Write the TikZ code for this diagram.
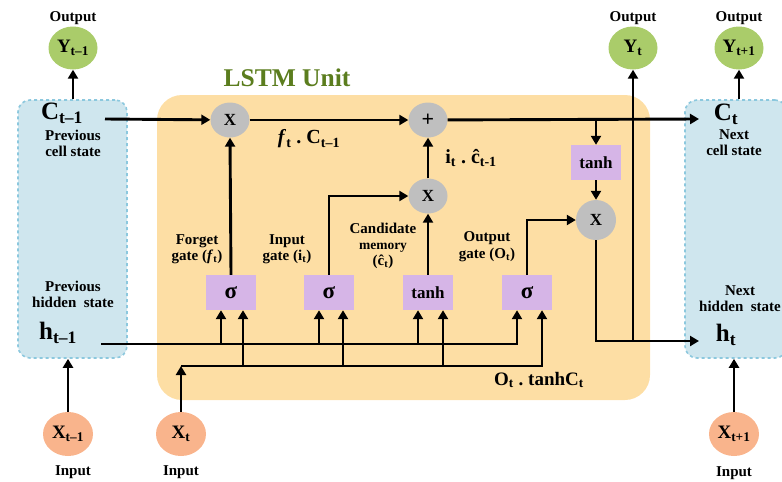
\documentclass[tikz,border=0pt]{standalone}
\usepackage{fontspec}
\setmainfont{Liberation Serif}
\usetikzlibrary{arrows.meta,shapes.geometric,calc}
\definecolor{cellblue}{RGB}{207,230,238}
\definecolor{cellborder}{RGB}{140,200,222}
\definecolor{unitorange}{RGB}{253,222,164}
\definecolor{outgreen}{RGB}{170,204,106}
\definecolor{inorange}{RGB}{249,180,140}
\definecolor{opgray}{RGB}{191,191,191}
\definecolor{gatepurple}{RGB}{214,181,231}
\definecolor{titlegreen}{RGB}{91,125,30}
\newcommand{\fs}[1]{\fontsize{#1}{#1}\selectfont}
\begin{document}
\begin{tikzpicture}[x=1pt,y=-1pt,
  arr/.style={line width=2.9pt,-{Triangle[length=9pt,width=10pt]}},
  statebox/.style={draw=cellborder,dashed,line width=1.6pt,fill=cellblue,rounded corners=12pt,minimum width=109pt,minimum height=258pt,inner sep=0pt},
  outcirc/.style={ellipse,fill=outgreen,minimum width=49pt,minimum height=43pt,inner sep=0pt,font=\bfseries\fs{19}},
  incirc/.style={ellipse,fill=inorange,minimum width=50pt,minimum height=44pt,inner sep=0pt,font=\bfseries\fs{19}},
  opcirc/.style={ellipse,fill=opgray,minimum width=39pt,minimum height=35pt,inner sep=0pt,font=\bfseries\fs{17}},
  gatebox/.style={rectangle,fill=gatepurple,minimum width=50pt,minimum height=35pt,inner sep=0pt},
  lab/.style={font=\bfseries\fs{15},align=center,inner sep=0pt},
  desc/.style={font=\bfseries\fs{15},align=center,inner sep=0pt,execute at begin node=\setlength{\baselineskip}{16pt}},
  big/.style={font=\bfseries\fs{25},inner sep=0pt},
  formula/.style={font=\bfseries\fs{20},inner sep=0pt}
]
\clip (0,0) rectangle (782,482);
\useasboundingbox (0,0) rectangle (782,482);

% LSTM unit background
\node[fill=unitorange,rounded corners=25pt,minimum width=493pt,minimum height=305pt,inner sep=0pt] (unit) at (403.5,247.5) {};
\node[font=\bfseries\fs{25.5},text=titlegreen,inner sep=0pt] (title) at (287,78) {LSTM Unit};

% state boxes
\node[statebox] (lbox) at (72.5,229) {};
\node[statebox,minimum width=102pt] (rbox) at (736,229) {};

% outputs
\node[outcirc] (yprev) at (73,48) {Y\textsubscript{t--1}};
\node[outcirc] (ycur) at (633,48) {Y\textsubscript{t}};
\node[outcirc] (ynext) at (739,48) {Y\textsubscript{t+1}};
\node[lab] (o1) at (73,18) {Output};
\node[lab] (o2) at (633,18) {Output};
\node[lab] (o3) at (739,18) {Output};

% inputs
\node[incirc] (xprev) at (68,434) {X\textsubscript{t--1}};
\node[incirc] (xcur) at (181,434) {X\textsubscript{t}};
\node[incirc] (xnext) at (734,434) {X\textsubscript{t+1}};
\node[lab] (i1) at (73,472) {Input};
\node[lab] (i2) at (181,472) {Input};
\node[lab] (i3) at (734,473) {Input};

% state labels
\node[big] (cprev) at (62,113) {C\textsubscript{t--1}};
\node[desc] (cprevd) at (73,143) {Previous\\cell state};
\node[desc] (hprevd) at (73,294) {Previous\\hidden\ \ state};
\node[big] (hprev) at (58,333) {h\textsubscript{t--1}};
\node[big] (ccur) at (726,114) {C\textsubscript{t}};
\node[desc] (ccurd) at (734,143) {Next\\cell state};
\node[desc] (hcurd) at (740,299) {Next\\hidden\ \ state};
\node[big] (hcur) at (726,335) {h\textsubscript{t}};

% operation circles
\node[opcirc] (xf) at (230,120) {X};
\node[opcirc,font=\bfseries\fs{22}] (plus) at (428,120) {+};
\node[opcirc] (xi) at (428,196) {X};
\node[opcirc,minimum height=40pt,minimum width=40pt] (xo) at (596,220) {X};

% gates
\node[gatebox,font=\bfseries\fs{23}] (g1) at (231,292.5) {σ};
\node[gatebox,font=\bfseries\fs{23}] (g2) at (329,292.5) {σ};
\node[gatebox,font=\bfseries\fs{17}] (g3) at (428,292.5) {tanh};
\node[gatebox,font=\bfseries\fs{23}] (g4) at (527,292.5) {σ};
\node[gatebox,font=\bfseries\fs{17}] (tc) at (596,162.5) {tanh};

% gate labels
\node[lab,execute at begin node=\setlength{\baselineskip}{16pt}] (lf) at (197,249) {Forget\\gate (\textit{f}\textsubscript{t})};
\node[lab,execute at begin node=\setlength{\baselineskip}{16pt}] (li) at (287,249) {Input\\gate (i\textsubscript{t})};
\node[lab,execute at begin node=\setlength{\baselineskip}{16pt}] (lc) at (383,246) {Candidate\\{\fs{13.5}memory}\\(ĉ\textsubscript{t})};
\node[lab,execute at begin node=\setlength{\baselineskip}{17pt}] (lo) at (487,247) {Output\\gate (O\textsubscript{t})};

% formulas
\node[formula] (ff) at (309,139) {\textit{f}\textsubscript{t}\ .\ C\textsubscript{t--1}};
\node[formula] (fi) at (471,158) {i\textsubscript{t}\ .\ ĉ\textsubscript{t-1}};
\node[formula,font=\bfseries\fs{19}] (fo) at (539,380) {O\textsubscript{t}\ .\ tanhC\textsubscript{t}};

% coordinates
\coordinate (cL) at (105,119);
\coordinate (cR) at (699,119);
\coordinate (br) at (596,119);
\coordinate (hL) at (101,344);
\coordinate (xj) at (181,366);
\coordinate (hc) at (596,341);
\coordinate (hR) at (699,341);
\coordinate (yj) at (633,341);

% cell state line
\draw[arr] (cL) -- (xf);
\draw[arr] (xf) -- (plus);
\draw[arr] (plus) -- (cR);
\draw[arr] (br) -- (tc.north);
\draw[arr] (tc.south) -- (xo.north);
\draw[arr] (xo.south) -- (hc) -- (hR);
\draw[arr] (yj) -- (ycur.south);

% gate outputs
\draw[arr] (g1.north) -- (xf.south);
\draw[arr] (g2.north) |- (xi.west);
\draw[arr] (g3.north) -- (xi.south);
\draw[arr] (xi.north) -- (plus.south);
\draw[arr] (g4.north) |- (xo.west);

% hidden state input line
\draw[arr] (hL) -- ([xshift=-10pt]g4.south |- hL) -- ([xshift=-10pt]g4.south);
\draw[arr] ([xshift=-10pt]g1.south |- hL) -- ([xshift=-10pt]g1.south);
\draw[arr] ([xshift=-10pt]g2.south |- hL) -- ([xshift=-10pt]g2.south);
\draw[arr] ([xshift=-10pt]g3.south |- hL) -- ([xshift=-10pt]g3.south);

% x input line
\draw[arr] (xcur.north) -- (xj);
\draw[arr] (xj) -- ([xshift=15pt]g4.south |- xj) -- ([xshift=15pt]g4.south);
\draw[arr] ([xshift=12pt]g1.south |- xj) -- ([xshift=12pt]g1.south);
\draw[arr] ([xshift=14pt]g2.south |- xj) -- ([xshift=14pt]g2.south);
\draw[arr] ([xshift=15pt]g3.south |- xj) -- ([xshift=15pt]g3.south);

% outer connections
\draw[arr] (lbox.north -| yprev) -- (yprev.south);
\draw[arr] (rbox.north -| ynext) -- (ynext.south);
\draw[arr] (xprev.north) -- (lbox.south -| xprev);
\draw[arr] (xnext.north) -- (rbox.south -| xnext);
\end{tikzpicture}
\end{document}
